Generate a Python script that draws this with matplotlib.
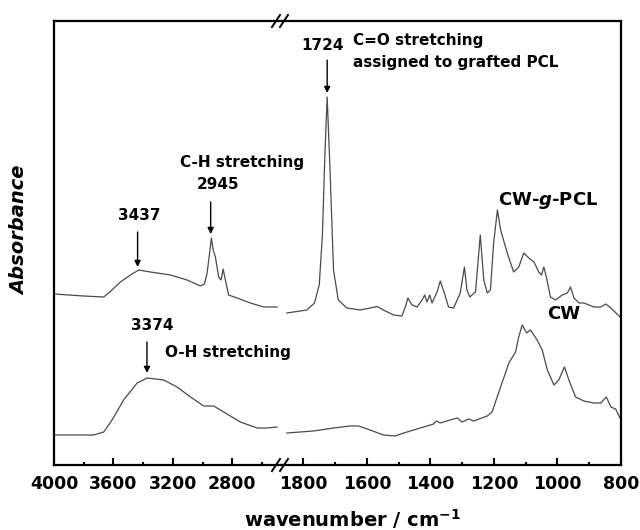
import matplotlib
matplotlib.use("Agg")
import matplotlib.pyplot as plt
from matplotlib.ticker import FixedLocator
from matplotlib.lines import Line2D

plt.rcParams['font.family'] = ['DejaVu Sans']
plt.rcParams['mathtext.fontset'] = 'custom'
plt.rcParams['mathtext.rm'] = 'DejaVu Sans:bold'
plt.rcParams['mathtext.it'] = 'DejaVu Sans:bold:italic'
plt.rcParams['mathtext.bf'] = 'DejaVu Sans:bold'

# ---- data (wavenumber in cm^-1, absorbance in arbitrary units, offset traces) ----
pcl_hi_w = [4000, 3800, 3665, 3632, 3553, 3485, 3430, 3351, 3216, 3104, 3014, 2987,
            2969, 2952, 2940, 2928, 2913, 2891, 2875, 2861, 2846, 2824, 2767, 2678, 2588, 2498]
pcl_hi_a = [1.71, 1.69, 1.68, 1.72, 1.83, 1.90, 1.95, 1.93, 1.90, 1.85, 1.79, 1.81,
            1.92, 2.12, 2.27, 2.15, 2.08, 1.88, 1.85, 1.96, 1.85, 1.70, 1.67, 1.62, 1.58, 1.58]
pcl_lo_w = [1852, 1789, 1765, 1750, 1740, 1732, 1725, 1716, 1705, 1690, 1663, 1621, 1590, 1568,
            1548, 1516, 1490, 1479, 1471, 1458, 1442, 1426, 1418, 1411, 1402, 1395, 1379,
            1369, 1356, 1343, 1327, 1306, 1293, 1285, 1276, 1258, 1243, 1232, 1221, 1211,
            1201, 1189, 1179, 1158, 1138, 1122, 1106, 1090, 1074, 1059, 1050, 1043, 1035,
            1022, 1006, 985, 969, 959, 948, 932, 917, 885, 864, 848, 832, 806, 800]
pcl_lo_a = [1.52, 1.55, 1.62, 1.80, 2.30, 3.12, 3.68, 2.95, 1.95, 1.65, 1.57, 1.55, 1.57, 1.585,
            1.55, 1.50, 1.49, 1.58, 1.67, 1.60, 1.58, 1.65, 1.70, 1.63, 1.70, 1.62, 1.73,
            1.84, 1.72, 1.58, 1.57, 1.72, 1.98, 1.75, 1.68, 1.73, 2.30, 1.85, 1.72, 1.75,
            2.22, 2.55, 2.35, 2.12, 1.93, 1.98, 2.12, 2.07, 2.03, 1.93, 1.90, 1.98, 1.88,
            1.68, 1.65, 1.70, 1.72, 1.78, 1.67, 1.62, 1.62, 1.58, 1.58, 1.61, 1.57, 1.49, 1.47]

cw_hi_w = [4000, 3733, 3665, 3609, 3531, 3440, 3373, 3261, 3171, 3081, 2992, 2924,
           2857, 2745, 2632, 2565, 2498]
cw_hi_a = [0.30, 0.30, 0.33, 0.45, 0.65, 0.82, 0.87, 0.85, 0.78, 0.68, 0.59, 0.59,
           0.53, 0.43, 0.37, 0.37, 0.38]
cw_lo_w = [1852, 1768, 1705, 1653, 1626, 1590, 1548, 1511, 1484, 1432, 1390, 1382, 1369,
           1316, 1300, 1279, 1264, 1221, 1206, 1179, 1153, 1132, 1122, 1111, 1097, 1085,
           1064, 1048, 1032, 1011, 996, 978, 964, 943, 917, 885, 864, 846, 832, 817, 800]
cw_lo_a = [0.32, 0.34, 0.37, 0.39, 0.39, 0.35, 0.30, 0.29, 0.32, 0.37, 0.41, 0.44, 0.42,
           0.47, 0.43, 0.46, 0.44, 0.49, 0.53, 0.78, 1.02, 1.13, 1.28, 1.40, 1.32, 1.35,
           1.25, 1.15, 0.95, 0.80, 0.85, 0.98, 0.85, 0.68, 0.64, 0.62, 0.62, 0.68, 0.58, 0.56, 0.45]

left_major = [4000, 3600, 3200, 2800]
left_minor = [3800, 3400, 3000, 2600]
right_major = [1800, 1600, 1400, 1200, 1000, 800]
right_minor = [1700, 1500, 1300, 1100, 900]

# ---- layout ----
W, H = 640, 530
fig = plt.figure(figsize=(6.4, 5.3), dpi=100)
x0, xb, x1 = 54, 281, 621
ytop, ybot = 21, 465
axL = fig.add_axes([x0 / W, 1 - ybot / H, (xb - x0) / W, (ybot - ytop) / H])
axR = fig.add_axes([xb / W, 1 - ybot / H, (x1 - xb) / W, (ybot - ytop) / H])
axL.patch.set_visible(False)
axR.patch.set_visible(False)

line_kw = dict(color='#4a4a4a', lw=0.9)
axL.plot(pcl_hi_w, pcl_hi_a, **line_kw)
axL.plot(cw_hi_w, cw_hi_a, **line_kw)
axR.plot(pcl_lo_w, pcl_lo_a, **line_kw)
axR.plot(cw_lo_w, cw_lo_a, **line_kw)

axL.set_xlim(4000, 4000 - (xb - x0) / 0.1485)
axR.set_xlim(1800 + (303.3 - xb) / 0.317, 800)
for ax in (axL, axR):
    ax.set_ylim(0, 4.44)
    ax.set_yticks([])
    for s in ax.spines.values():
        s.set_linewidth(1.6)
    ax.tick_params(axis='x', which='both', direction='in', top=False, width=1.5,
                   labelsize=12.5, pad=7)
    ax.tick_params(axis='x', which='major', length=5)
    ax.tick_params(axis='x', which='minor', length=2.5)
axL.spines['right'].set_visible(False)
axR.spines['left'].set_visible(False)
axL.xaxis.set_major_locator(FixedLocator(left_major))
axL.xaxis.set_minor_locator(FixedLocator(left_minor))
axR.xaxis.set_major_locator(FixedLocator(right_major))
axR.xaxis.set_minor_locator(FixedLocator(right_minor))
for ax in (axL, axR):
    for lab in ax.get_xticklabels():
        lab.set_fontweight('bold')

# break marks
for yy in (ytop, ybot):
    for dx in (-5, 3):
        xa, xbp = xb + dx - 4, xb + dx + 4
        fig.add_artist(Line2D([xa / W, xbp / W], [1 - (yy + 6) / H, 1 - (yy - 6) / H],
                              color='black', lw=1.4))

# annotations
tkw = dict(fontsize=11, fontweight='bold')
akw = dict(arrowstyle='-|>', color='black', lw=1.0, mutation_scale=9, shrinkA=0, shrinkB=0)

axL.annotate('', xy=(3437, 1.98), xytext=(3437, 2.33), arrowprops=akw)
axL.text(3425, 2.50, '3437', ha='center', va='center', **tkw)

axL.annotate('', xy=(2945, 2.31), xytext=(2945, 2.63), arrowprops=akw)
axL.text(2895, 2.81, '2945', ha='center', va='center', **tkw)
axL.text(2735, 3.03, 'C-H stretching', ha='center', va='center', clip_on=False, zorder=5, **tkw)

axL.annotate('', xy=(3374, 0.92), xytext=(3374, 1.23), arrowprops=akw)
axL.text(3340, 1.40, '3374', ha='center', va='center', **tkw)
axL.text(3250, 1.12, 'O-H stretching', ha='left', va='center', clip_on=False, zorder=5, **tkw)

axR.annotate('', xy=(1725, 3.72), xytext=(1725, 4.05), arrowprops=akw)
axR.text(1738, 4.20, '1724', ha='center', va='center', **tkw)
axR.text(1643, 4.25, 'C=O stretching', ha='left', va='center', **tkw)
axR.text(1643, 4.03, 'assigned to grafted PCL', ha='left', va='center', **tkw)

axR.text(1186, 2.65, r'CW-$\mathit{g}$-PCL', ha='left', va='center', fontsize=13, fontweight='bold')
axR.text(1032, 1.51, 'CW', ha='left', va='center', fontsize=13, fontweight='bold')

fig.text(20 / W, 1 - 230 / H, 'Absorbance', rotation=90, ha='center', va='center',
         fontsize=14, fontweight='bold', fontstyle='italic')
fig.text(352 / W, 1 - 519 / H, r'wavenumber / cm$^{-1}$', ha='center', va='center',
         fontsize=14, fontweight='bold')

fig.savefig('out.png', dpi=100)
